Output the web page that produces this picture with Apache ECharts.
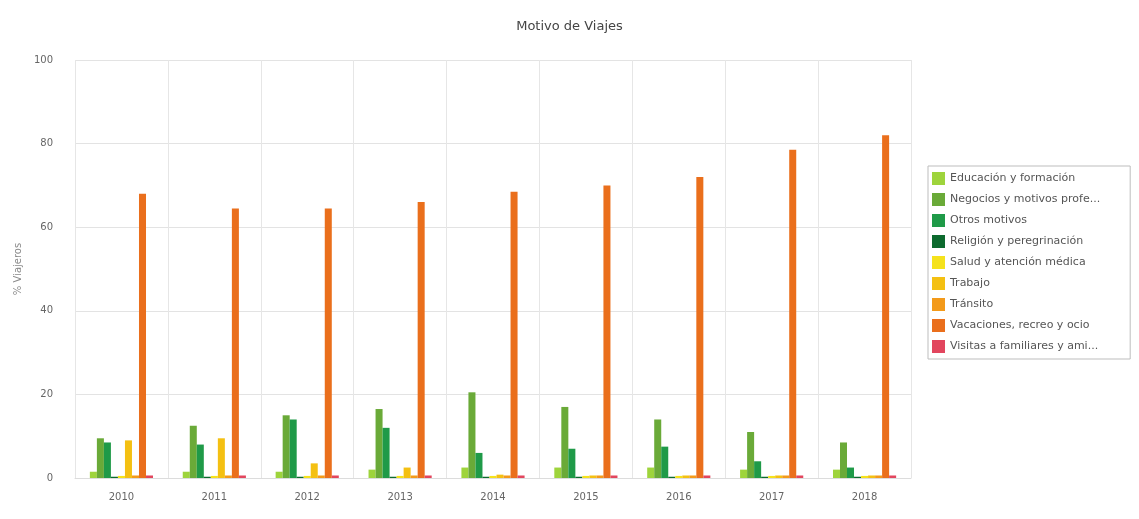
<!DOCTYPE html>
<html>
<head>
<meta charset="utf-8">
<title>Motivo de Viajes</title>
<script src="https://cdn.jsdelivr.net/npm/echarts@6/dist/echarts.min.js"></script>
<style>
  html, body { margin: 0; padding: 0; background: #ffffff; }
  #chart { width: 1139px; height: 519px; }
</style>
</head>
<body>
<div id="chart"></div>
<script>
// Years on the category axis
const years = ['2010', '2011', '2012', '2013', '2014', '2015', '2016', '2017', '2018'];

// Share of travellers (%) by trip purpose
const educacion  = [1.5, 1.5, 1.5, 2.0, 2.5, 2.5, 2.5, 2.0, 2.0];
const negocios   = [9.5, 12.5, 15.0, 16.5, 20.5, 17.0, 14.0, 11.0, 8.5];
const otros      = [8.5, 8.0, 14.0, 12.0, 6.0, 7.0, 7.5, 4.0, 2.5];
const religion   = [0.3, 0.3, 0.3, 0.3, 0.3, 0.3, 0.3, 0.3, 0.3];
const salud      = [0.5, 0.5, 0.5, 0.5, 0.5, 0.5, 0.5, 0.5, 0.5];
const trabajo    = [9.0, 9.5, 3.5, 2.5, 0.8, 0.6, 0.6, 0.6, 0.6];
const transito   = [0.6, 0.6, 0.6, 0.6, 0.6, 0.6, 0.6, 0.6, 0.6];
const vacaciones = [68.0, 64.5, 64.5, 66.0, 68.5, 70.0, 72.0, 78.5, 82.0];
const visitas    = [0.6, 0.6, 0.6, 0.6, 0.6, 0.6, 0.6, 0.6, 0.6];

// Y axis range and tick step
const yMin = 0, yMax = 100, yStep = 20;

const seriesDefs = [
  { name: 'Educación y formación',             data: educacion,  color: '#9ed43c' },
  { name: 'Negocios y motivos profesionales',  data: negocios,   color: '#6aaa38' },
  { name: 'Otros motivos',                     data: otros,      color: '#1f9a48' },
  { name: 'Religión y peregrinación',          data: religion,   color: '#0d6a2e' },
  { name: 'Salud y atención médica',           data: salud,      color: '#f5e21c' },
  { name: 'Trabajo',                           data: trabajo,    color: '#f4c012' },
  { name: 'Tránsito',                          data: transito,   color: '#f39a1a' },
  { name: 'Vacaciones, recreo y ocio',         data: vacaciones, color: '#ea6f1c' },
  { name: 'Visitas a familiares y amigos',     data: visitas,    color: '#e2465e' }
];

const chart = echarts.init(document.getElementById('chart'), null, { renderer: 'canvas' });

chart.setOption({
  animation: false,
  backgroundColor: '#ffffff',
  textStyle: { fontFamily: 'DejaVu Sans' },
  title: {
    text: 'Motivo de Viajes',
    left: 'center',
    top: 15,
    textStyle: { fontFamily: 'DejaVu Sans', fontSize: 13, fontWeight: 'normal', color: '#444444' }
  },
  legend: {
    orient: 'vertical',
    left: 928,
    top: 166,
    padding: [6, 30, 6, 4],
    borderColor: '#bdbdbd',
    borderWidth: 1,
    itemWidth: 13,
    itemHeight: 13,
    itemGap: 8,
    icon: 'rect',
    textStyle: {
      fontFamily: 'DejaVu Sans',
      fontSize: 11,
      color: '#555555',
      width: 156,
      overflow: 'truncate',
      ellipsis: '...'
    },
    data: seriesDefs.map(s => s.name)
  },
  grid: { left: 75, right: 228, top: 60, bottom: 41 },
  xAxis: {
    type: 'category',
    data: years,
    axisLine: { show: true, lineStyle: { color: '#dcdcdc' } },
    axisTick: { show: false },
    splitLine: { show: true, lineStyle: { color: '#e6e6e6' } },
    axisLabel: { fontSize: 10, color: '#666666', margin: 14 }
  },
  yAxis: {
    type: 'value',
    min: yMin,
    max: yMax,
    interval: yStep,
    name: '% Viajeros',
    nameLocation: 'middle',
    nameGap: 52,
    nameTextStyle: { fontSize: 10, color: '#8a8a8a' },
    axisLine: { show: false },
    axisTick: { show: false },
    axisLabel: { fontSize: 10, color: '#666666', margin: 22 },
    splitLine: { lineStyle: { color: '#e3e3e3' } }
  },
  series: seriesDefs.map(s => ({
    name: s.name,
    type: 'bar',
    data: s.data,
    barGap: '0%',
    barCategoryGap: '32%',
    itemStyle: { color: s.color }
  }))
});
</script>
</body>
</html>
